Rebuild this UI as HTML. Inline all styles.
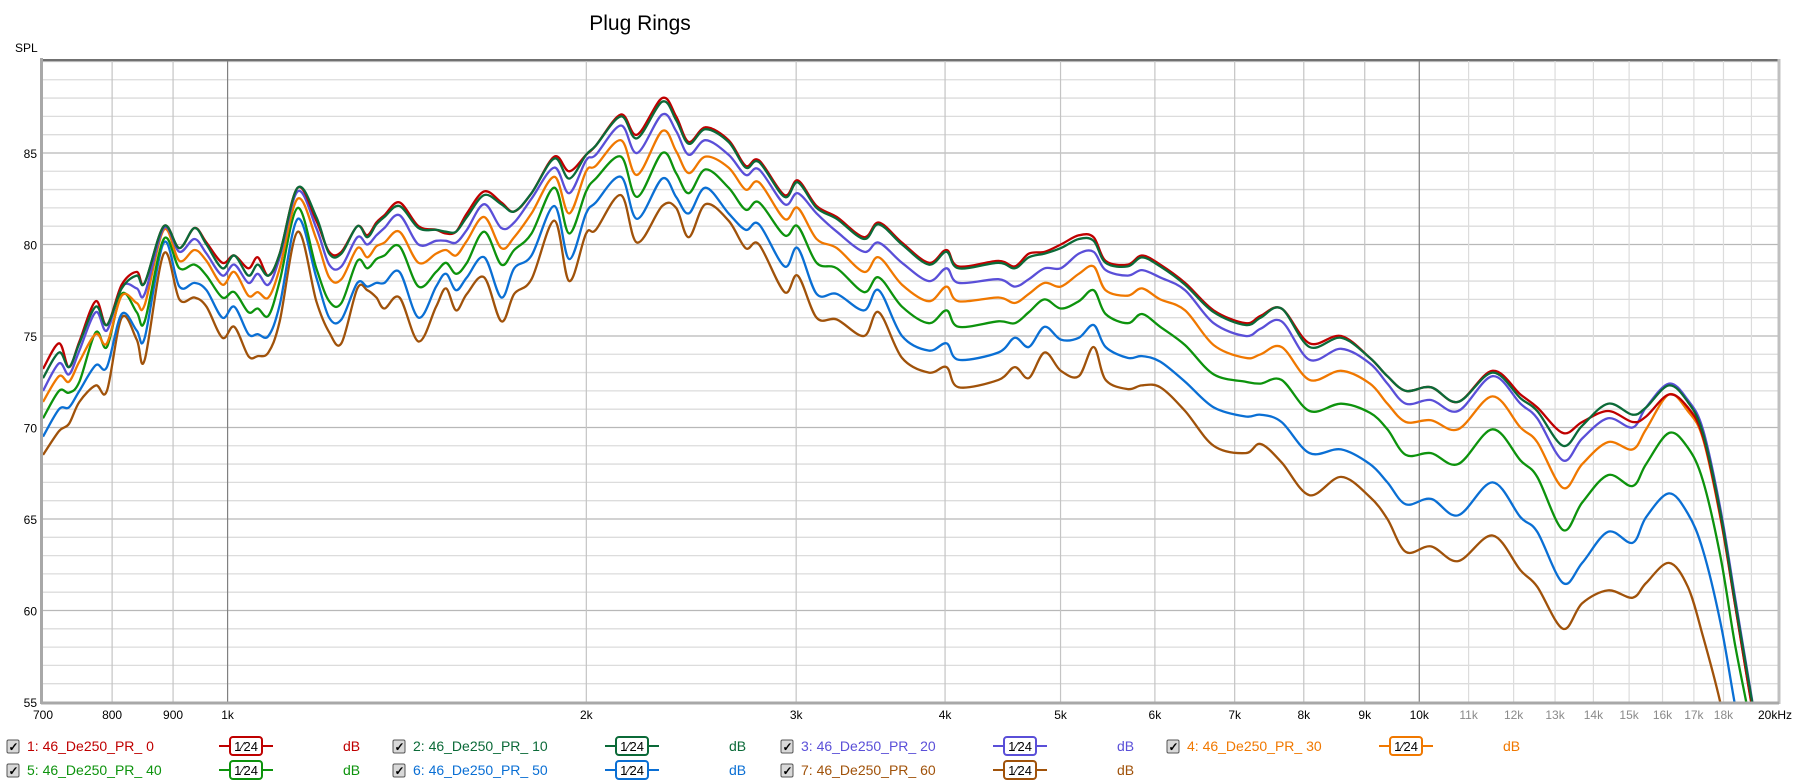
<!DOCTYPE html>
<html><head><meta charset="utf-8"><title>Plug Rings</title>
<style>
html,body{margin:0;padding:0;background:#fff;}
body{width:1800px;height:784px;overflow:hidden;font-family:"Liberation Sans",sans-serif;}
svg{display:block;}
svg text{font-family:"Liberation Sans",sans-serif;}
</style></head>
<body>
<svg id="chart" width="1800" height="784" viewBox="0 0 1800 784" xmlns="http://www.w3.org/2000/svg">
<text x="640" y="30" font-size="21" text-anchor="middle" fill="#000">Plug Rings</text>
<text x="15" y="52" font-size="12" fill="#000">SPL</text>
<g id="grid"></g>
<g id="yticks"></g>
<g id="xticks"></g>
<defs><clipPath id="plotclip"><rect x="43" y="60" width="1735" height="642"/></clipPath></defs>
<g id="series" clip-path="url(#plotclip)"></g>
<g id="frame">
<rect x="40" y="58" width="3" height="646" fill="#a8a8a8"/>
<line x1="43" y1="60" x2="1778" y2="60" stroke="#707070" stroke-width="2"/>
<line x1="1779" y1="59" x2="1779" y2="704" stroke="#c0c0c0" stroke-width="3"/>
<line x1="41" y1="703" x2="1779" y2="703" stroke="#a8a8a8" stroke-width="3"/>
</g>
<g id="legend"></g>
</svg>
<script>
const freqs=[700,722,736,751,775,792,815,839,852,884,911,938,960,990,1013,1041,1060,1082,1106,1145,1187,1217,1246,1285,1310,1333,1354,1394,1446,1496,1525,1555,1588,1642,1697,1740,1799,1880,1935,1999,2037,2138,2206,2316,2379,2438,2518,2633,2721,2792,2933,3009,3121,3245,3420,3519,3681,3877,4011,4105,4434,4577,4703,4848,5003,5180,5330,5455,5693,5851,6062,6361,6722,7149,7360,7663,8089,8598,9091,9402,9744,10230,10780,11520,12160,12560,13200,13700,14400,15100,15500,16200,16800,17300,17900,18400,19000,19500];
const pr0=[73.2,74.6,73.3,74.7,76.9,75.6,77.8,78.5,77.9,81.0,79.8,80.9,80.1,79.0,79.4,78.7,79.3,78.3,79.5,83.1,81.3,79.6,79.6,81.0,80.5,81.2,81.6,82.3,81.0,80.8,80.6,80.7,81.7,82.9,82.3,81.8,82.8,84.8,84.0,84.9,85.4,87.1,86.0,88.0,87.0,85.6,86.4,85.7,84.3,84.6,82.7,83.5,82.1,81.5,80.4,81.2,80.1,79.0,79.7,78.8,79.1,78.8,79.5,79.6,80.0,80.5,80.4,79.1,78.9,79.4,78.9,77.9,76.4,75.7,76.1,76.5,74.6,75.0,73.8,72.8,72.0,72.2,71.4,73.1,71.8,71.1,69.7,70.3,70.9,70.3,70.6,71.8,71.1,69.5,65.1,60.4,54.9,51];
const pr10=[72.7,74.1,73.3,74.6,76.6,75.6,77.6,78.3,77.9,81.0,79.8,80.9,80.0,78.7,79.4,78.3,78.9,78.3,79.5,83.1,81.5,79.5,79.5,81.0,80.4,81.1,81.5,82.1,80.9,80.8,80.7,80.7,81.5,82.7,82.2,81.8,82.8,84.7,83.6,84.9,85.4,87.0,85.8,87.8,86.8,85.5,86.3,85.6,84.2,84.5,82.6,83.4,82.0,81.4,80.3,81.1,80.0,78.9,79.6,78.7,79.0,78.7,79.3,79.5,79.8,80.3,80.2,79.0,78.8,79.3,78.8,77.8,76.3,75.6,76.0,76.5,74.4,74.9,73.8,72.8,72.0,72.2,71.4,73.0,71.6,70.9,69.0,70.1,71.3,70.7,71.1,72.3,71.4,69.7,65.3,60.6,55.2,51];
const pr20=[72.0,73.5,72.9,74.2,76.3,75.3,77.7,77.6,77.3,80.9,79.6,80.3,79.5,78.3,78.9,77.9,78.4,77.8,79.3,82.9,80.9,78.9,78.8,80.4,80.0,80.5,80.9,81.6,80.0,80.2,80.2,80.1,80.8,82.2,80.9,81.2,82.5,84.2,82.8,84.6,84.9,86.5,85.0,87.1,86.2,84.9,85.7,84.9,83.8,84.1,82.2,82.8,81.7,80.7,79.6,80.1,79.0,78.0,78.7,77.9,78.1,77.7,78.1,78.7,78.7,79.5,79.6,78.6,78.3,78.6,78.2,77.5,75.7,75.0,75.4,75.8,73.7,74.3,73.5,72.4,71.3,71.5,70.9,72.8,71.3,70.5,68.2,69.4,70.5,70.0,71.1,72.4,71.5,69.9,65.5,60.8,55.3,51];
const pr30=[71.4,72.8,72.5,73.6,75.1,74.6,77.2,76.8,76.7,80.8,79.1,79.7,79.1,77.8,78.5,77.2,77.4,77.1,78.7,82.5,80.3,78.2,78.1,79.8,79.3,79.9,80.1,80.7,79.0,79.5,79.7,79.4,80.2,81.5,79.8,80.4,81.7,83.7,81.7,84.0,84.3,85.7,83.8,86.2,85.1,83.9,84.8,84.2,83.0,83.4,81.4,82.0,80.3,79.8,78.5,79.3,77.8,76.9,77.7,76.9,77.1,76.8,77.3,77.9,77.7,78.4,78.8,77.5,77.2,77.6,77.0,76.4,74.5,73.8,74.0,74.4,72.6,73.1,72.4,71.3,70.3,70.4,69.9,71.7,70.0,69.2,66.7,68.0,69.2,68.8,69.9,71.8,70.9,69.4,65.0,60.4,54.9,51];
const pr40=[70.5,72.0,71.9,72.5,75.2,74.4,77.3,76.3,75.8,80.3,78.7,78.9,78.3,77.1,77.4,76.3,76.5,76.1,78.0,82.0,78.7,76.9,76.8,79.1,78.7,79.2,79.4,79.9,77.7,78.5,79.0,78.4,79.0,80.7,78.9,79.7,80.6,83.1,80.6,82.9,83.6,84.8,82.6,85.0,83.9,82.8,84.1,83.1,81.9,82.3,80.5,81.0,79.0,78.7,77.4,78.2,76.6,75.7,76.4,75.5,75.8,75.7,76.3,77.0,76.5,76.9,77.5,76.2,75.7,76.2,75.5,74.5,72.9,72.5,72.4,72.6,70.9,71.3,70.8,69.9,68.5,68.6,68.0,69.9,68.2,67.3,64.4,65.9,67.4,66.8,68.0,69.7,68.9,67.1,62.9,58.2,53.5,49];
const pr50=[69.5,71.0,71.1,72.0,73.4,73.3,76.2,75.3,74.9,80.1,77.7,77.9,77.5,76.0,76.6,75.1,75.1,75.0,76.7,81.4,78.2,76.0,75.9,77.9,77.7,77.9,77.9,78.5,76.0,77.7,78.4,77.5,78.2,79.3,77.1,78.7,79.4,82.1,79.2,81.7,82.3,83.7,81.4,83.6,82.6,81.7,83.1,81.7,80.8,81.1,78.8,79.8,77.3,77.3,76.4,77.5,75.0,74.2,74.6,73.7,74.1,74.9,74.4,75.5,74.8,74.9,75.6,74.4,73.8,73.9,73.6,72.5,71.1,70.6,70.7,70.3,68.6,68.8,68.0,67.0,65.8,66.1,65.2,67.0,65.1,64.3,61.5,62.6,64.3,63.7,65.1,66.4,65.3,63.3,59.3,54.9,50,46];
const pr60=[68.5,69.8,70.2,71.4,72.3,72.0,76.0,74.8,73.7,79.5,77.0,77.1,76.6,74.9,75.5,73.9,73.9,74.1,75.8,80.7,76.9,75.2,74.6,77.6,77.5,77.1,76.5,77.1,74.7,76.6,77.6,76.4,77.3,78.2,75.8,77.3,78.1,81.3,78.0,80.6,80.8,82.7,80.1,82.1,82.0,80.4,82.2,81.3,79.8,80.0,77.4,78.3,76.0,75.9,75.0,76.3,73.8,73.0,73.3,72.2,72.6,73.3,72.7,74.1,73.1,72.8,74.4,72.6,72.1,72.3,72.2,70.9,69.0,68.6,69.1,68.1,66.3,67.3,66.2,65.0,63.2,63.5,62.7,64.1,62.2,61.3,59.0,60.4,61.1,60.7,61.5,62.6,61.3,58.6,54.9,51,47,43];
const seriesNames=["1: 46_De250_PR_ 0","2: 46_De250_PR_ 10","3: 46_De250_PR_ 20","4: 46_De250_PR_ 30","5: 46_De250_PR_ 40","6: 46_De250_PR_ 50","7: 46_De250_PR_ 60"];
const seriesData=[pr0,pr10,pr20,pr30,pr40,pr50,pr60];
const seriesColors=["#bf0000","#0b6a38","#5a4fd8","#f07800","#0d930d","#0a6fd4","#a0520a"];
const yTicks=[55,60,65,70,75,80,85];
const xTickVals=[700,800,900,1000,2000,3000,4000,5000,6000,7000,8000,9000,10000,11000,12000,13000,14000,15000,16000,17000,18000,20000];
const xTickLabels=["700","800","900","1k","2k","3k","4k","5k","6k","7k","8k","9k","10k","11k","12k","13k","14k","15k","16k","17k","18k","20kHz"];

const NS="http://www.w3.org/2000/svg";
const X0=43,X1=1778,Y0=60,Y1=702,FMIN=700,FMAX=20000,DMIN=55,DMAX=90.08;
function xs(f){return X0+(Math.log10(f)-Math.log10(FMIN))/(Math.log10(FMAX)-Math.log10(FMIN))*(X1-X0);}
function ys(d){return Y1-(d-DMIN)/(DMAX-DMIN)*(Y1-Y0);}
function mk(tag,attrs,parent){const e=document.createElementNS(NS,tag);for(const k in attrs)e.setAttribute(k,attrs[k]);parent.appendChild(e);return e;}

const grid=document.getElementById('grid');
for(let d=56;d<=90;d++){
  const ln=mk('line',{x1:X0,x2:X1,y1:ys(d),y2:ys(d),stroke:(d%5===0)?'#b8b8b8':'#dcdcdc','stroke-width':1.3},grid);
  
  
}
const vlines=[800,900,1000,2000,3000,4000,5000,6000,7000,8000,9000,10000,11000,12000,13000,14000,15000,16000,17000,18000,19000];
vlines.forEach(f=>{
  let c='#c4c4c4';if(f===1000||f===10000)c='#808080';if(f>10000)c='#dcdcdc';
  const ln=mk('line',{x1:xs(f),x2:xs(f),y1:Y0,y2:Y1,stroke:c,'stroke-width':1.2},grid);
  
  
});
const yt=document.getElementById('yticks');
yTicks.forEach(d=>{
  const t=mk('text',{x:37,y:ys(d)+5,'font-size':12,'text-anchor':'end',fill:'#000'},yt);
  t.textContent=d;
  
  
});
const xt=document.getElementById('xticks');
xTickVals.forEach((f,i)=>{
  const last=i===xTickVals.length-1;
  const t=mk('text',{x:last?1792:xs(f),y:719,'font-size':12,'text-anchor':last?'end':'middle',fill:(f>10000&&!last)?'#8a8a8a':'#000'},xt);
  t.textContent=xTickLabels[i];
  
  
});
function smoothPath(pts){
  let d='M'+pts[0][0].toFixed(1)+','+pts[0][1].toFixed(1);
  for(let i=0;i<pts.length-1;i++){
    const p0=pts[Math.max(0,i-1)],p1=pts[i],p2=pts[i+1],p3=pts[Math.min(pts.length-1,i+2)];
    const c1x=p1[0]+(p2[0]-p0[0])/6,c1y=p1[1]+(p2[1]-p0[1])/6;
    const c2x=p2[0]-(p3[0]-p1[0])/6,c2y=p2[1]-(p3[1]-p1[1])/6;
    d+='C'+c1x.toFixed(1)+','+c1y.toFixed(1)+' '+c2x.toFixed(1)+','+c2y.toFixed(1)+' '+p2[0].toFixed(1)+','+p2[1].toFixed(1);
  }
  return d;
}
const sg=document.getElementById('series');
[6,5,4,3,2,0,1].forEach(si=>{
  const pts=freqs.map((f,i)=>[xs(f),ys(seriesData[si][i])]);
  const p=mk('path',{d:smoothPath(pts),fill:'none',stroke:seriesColors[si],'stroke-width':2.3,'stroke-linejoin':'round'},sg);
  
  
});
const lg=document.getElementById('legend');
const colX=[7,393,781,1167];
seriesNames.forEach((name,i)=>{
  const row=i<4?0:1,col=i<4?i:i-4;
  const bx=colX[col],by=row===0?746:770;
  const g=mk('g',{},lg);
  
  
  const cb=mk('g',{},g);
  
  
  mk('rect',{x:bx,y:by-6,width:12,height:13,rx:1.5,fill:'#d8d8d8',stroke:'#555','stroke-width':1},cb);
  const ck=mk('text',{x:bx+1.5,y:by+5,'font-size':12,fill:'#000','font-weight':'bold'},cb);
  ck.textContent='✓';
  const t=mk('text',{x:bx+20,y:by+5,'font-size':14,fill:seriesColors[i]},g);
  t.textContent=name;
  
  
  const fi=mk('g',{},g);
  
  
  mk('line',{x1:bx+212,x2:bx+266,y1:by,y2:by,stroke:seriesColors[i],'stroke-width':2},fi);
  mk('rect',{x:bx+223,y:by-9,width:32,height:18,rx:3,fill:'#fff',stroke:seriesColors[i],'stroke-width':2},fi);
  const ft=mk('text',{x:bx+239,y:by+5,'font-size':13,'text-anchor':'middle',fill:'#000'},fi);
  ft.textContent='1⁄24';
  const db=mk('text',{x:bx+336,y:by+5,'font-size':14,fill:seriesColors[i]},g);
  db.textContent='dB';
  
  
});
</script>
</body></html>
